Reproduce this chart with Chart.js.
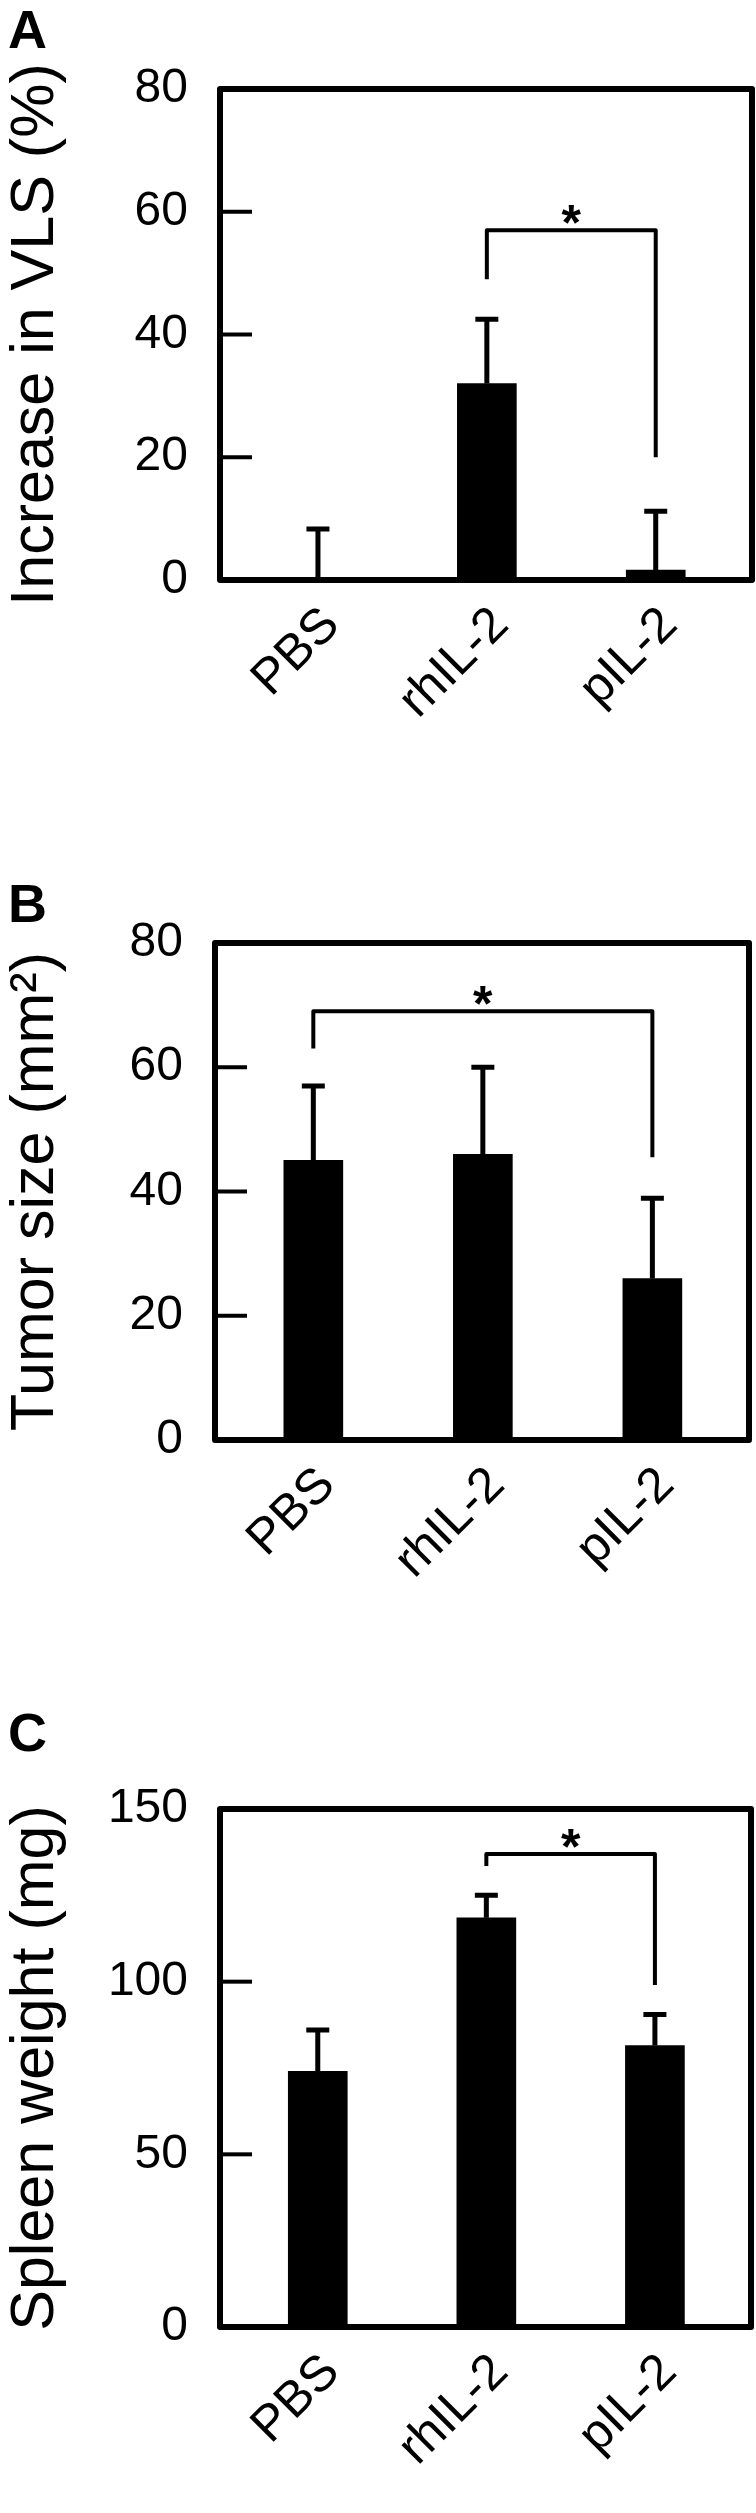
<!DOCTYPE html>
<html lang="en">
<head>
<meta charset="UTF-8" />
<title>VLS, tumor size and spleen weight</title>
<script src="https://cdn.jsdelivr.net/npm/chart.js"></script>
<style>
  body { margin: 0; background: #fff; }
  .panel { position: absolute; left: 0; }
  canvas { display: block; }
</style>
</head>
<body>
<div class="panel" style="top:0"><canvas id="chartA" width="756" height="850"></canvas></div>
<div class="panel" style="top:850px"><canvas id="chartB" width="756" height="850"></canvas></div>
<div class="panel" style="top:1700px"><canvas id="chartC" width="756" height="813"></canvas></div>
<script>
const groups = ["PBS", "rhIL-2", "pIL-2"];

// A - increase in VLS (%)
const vlsMean = [0, 32, 1.6];
const vlsErr = [8.3, 10.5, 9.6];
const vlsTicks = [0, 20, 40, 60, 80];
const vlsSig = [1, 2, 49, 57, 20]; // from, to, left end, top, right end

// B - tumor size (mm2)
const tumorMean = [45, 46, 26];
const tumorErr = [12, 14, 12.9];
const tumorTicks = [0, 20, 40, 60, 80];
const tumorSig = [0, 2, 63, 69, 45.5];

// C - spleen weight (mg)
const spleenMean = [74, 118.5, 81.5];
const spleenErr = [12, 6.5, 9];
const spleenTicks = [0, 50, 100, 150];
const spleenSig = [1, 2, 133.5, 137, 99];

const FONT = '"Liberation Sans", Arial, Helvetica, sans-serif';

// frame, inner ticks, error bars, significance bracket, panel letter
const decor = {
  id: "decor",
  afterDatasetsDraw(chart, args, opts) {
    const { ctx, chartArea: a, scales: { x, y } } = chart;
    ctx.save();
    ctx.strokeStyle = "#000";
    ctx.fillStyle = "#000";
    ctx.lineCap = "butt";

    // error bars (upper only)
    ctx.lineWidth = 5;
    chart.getDatasetMeta(0).data.forEach((bar, i) => {
      const base = y.getPixelForValue(opts.mean[i]);
      const top = y.getPixelForValue(opts.mean[i] + opts.err[i]);
      ctx.beginPath();
      ctx.moveTo(bar.x, base);
      ctx.lineTo(bar.x, top);
      ctx.moveTo(bar.x - 11.5, top);
      ctx.lineTo(bar.x + 11.5, top);
      ctx.stroke();
    });

    // bracket + asterisk
    const [from, to, yl, yt, yr] = opts.sig;
    const x1 = x.getPixelForValue(from);
    const x2 = x.getPixelForValue(to);
    const top = y.getPixelForValue(yt);
    ctx.lineWidth = 4;
    ctx.lineJoin = "round";
    ctx.beginPath();
    ctx.moveTo(x1, y.getPixelForValue(yl));
    ctx.lineTo(x1, top);
    ctx.lineTo(x2, top);
    ctx.lineTo(x2, y.getPixelForValue(yr));
    ctx.stroke();
    ctx.font = "bold 50px " + FONT;
    ctx.textAlign = "center";
    ctx.textBaseline = "alphabetic";
    ctx.fillText("*", (x1 + x2) / 2, top + 10);

    // inner tick marks
    ctx.lineWidth = 4;
    y.ticks.forEach((t) => {
      if (t.value === y.min) return;
      const py = y.getPixelForValue(t.value);
      ctx.beginPath();
      ctx.moveTo(a.left, py);
      ctx.lineTo(a.left + 32, py);
      ctx.stroke();
    });

    // frame
    ctx.lineWidth = 6;
    ctx.strokeRect(a.left, a.top, a.right - a.left, a.bottom - a.top);

    // panel letter
    ctx.font = "bold 54px " + FONT;
    ctx.textAlign = "left";
    ctx.fillText(opts.letter, 8, opts.letterY);
    ctx.restore();
  },
};

function makeChart(id, cfg) {
  return new Chart(document.getElementById(id), {
    type: "bar",
    data: {
      datasets: [
        {
          data: cfg.mean.map((v, i) => ({ x: i, y: v })),
          backgroundColor: "#000",
          borderWidth: 0,
          barThickness: 59,
        },
      ],
    },
    options: {
      responsive: false,
      animation: false,
      layout: { padding: { top: cfg.top, right: cfg.right, left: 0, bottom: 0 } },
      plugins: {
        legend: { display: false },
        tooltip: { enabled: false },
        decor: {
          mean: cfg.mean,
          err: cfg.err,
          sig: cfg.sig,
          letter: cfg.letter,
          letterY: cfg.letterY,
        },
      },
      scales: {
        x: {
          type: "linear",
          offset: false,
          min: -0.58,
          max: 2.57,
          grid: { display: false, drawTicks: false },
          border: { display: false },
          afterBuildTicks: (s) => {
            s.ticks = groups.map((g, i) => ({ value: i }));
          },
          afterFit: (s) => {
            s.height = cfg.xHeight;
          },
          ticks: {
            autoSkip: false,
            minRotation: 45,
            maxRotation: 45,
            padding: 16,
            labelOffset: 14,
            color: "#000",
            font: { family: FONT, size: 50 },
            callback: (v) => groups[v],
          },
        },
        y: {
          min: cfg.ticks[0],
          max: cfg.ticks[cfg.ticks.length - 1],
          grid: { display: false, drawTicks: false },
          border: { display: false },
          afterBuildTicks: (s) => {
            s.ticks = cfg.ticks.map((v) => ({ value: v }));
          },
          afterFit: (s) => {
            s.width = cfg.yWidth;
          },
          ticks: {
            padding: 32,
            color: "#000",
            font: { family: FONT, size: 48 },
          },
          title: {
            display: true,
            text: cfg.title,
            color: "#000",
            padding: 0,
            font: { family: FONT, size: 61 },
          },
        },
      },
    },
    plugins: [decor],
  });
}

makeChart("chartA", {
  mean: vlsMean, err: vlsErr, ticks: vlsTicks, sig: vlsSig,
  title: "Increase in VLS (%)", letter: "A", letterY: 48,
  top: 89, right: 4, yWidth: 220, xHeight: 270,
});
makeChart("chartB", {
  mean: tumorMean, err: tumorErr, ticks: tumorTicks, sig: tumorSig,
  title: "Tumor size (mm²)", letter: "B", letterY: 72,
  top: 93, right: 7, yWidth: 215, xHeight: 260,
});
makeChart("chartC", {
  mean: spleenMean, err: spleenErr, ticks: spleenTicks, sig: spleenSig,
  title: "Spleen weight (mg)", letter: "C", letterY: 51,
  top: 109, right: 5, yWidth: 220, xHeight: 186,
});
</script>
</body>
</html>
